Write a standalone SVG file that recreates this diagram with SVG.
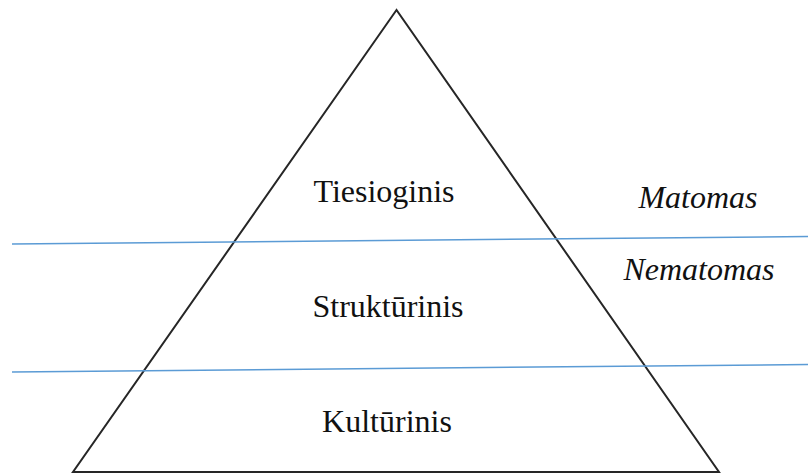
<svg xmlns="http://www.w3.org/2000/svg" width="808" height="475" viewBox="0 0 808 475">
<style>
.tri{fill:none;stroke:#262626;stroke-width:2;stroke-linejoin:miter}
.ln{stroke:#5b9bd5;stroke-width:1.5;fill:none}
.t{font-family:"Liberation Serif","Times New Roman",serif;font-size:32px;fill:#111;text-anchor:middle}
.i{font-style:italic}
</style>
<rect width="808" height="475" fill="#fff"/>
<g id="pyramid">
<polygon class="tri" points="396.5,10 73,472 719,472"/>
</g>
<g id="connectors">
<line class="ln" x1="12" y1="244" x2="808" y2="236.5"/>
<line class="ln" x1="12" y1="372" x2="808" y2="364.5"/>
</g>
<g id="tiesioginis"><text class="t" x="384" y="202">Tiesioginis</text></g>
<g id="strukturinis"><text class="t" x="388" y="317">Struktūrinis</text></g>
<g id="kulturinis"><text class="t" x="387" y="432">Kultūrinis</text></g>
<g id="matomas"><text class="t i" x="698" y="208">Matomas</text></g>
<g id="nematomas"><text class="t i" x="699" y="280">Nematomas</text></g>
</svg>
